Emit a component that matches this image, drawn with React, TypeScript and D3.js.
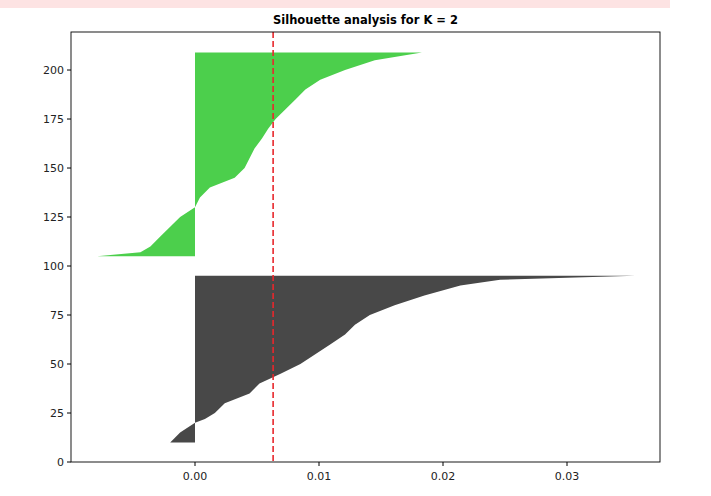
import * as d3 from "d3";

const yTicks = [0, 25, 50, 75, 100, 125, 150, 175, 200];
const xTicks = [0, 0.01, 0.02, 0.03];
const avgScore = 0.0063;

// cluster 0 (dark): [y, silhouette]
const cluster0: [number, number][] = [
  [10, -0.002], [15, -0.0012], [20, 0], [22, 0.0008], [25, 0.0016], [30, 0.0024],
  [35, 0.0044], [40, 0.0052], [45, 0.0069], [50, 0.0085], [55, 0.0097], [60, 0.0109],
  [65, 0.0121], [70, 0.0129], [75, 0.0141], [80, 0.0161], [85, 0.0185], [90, 0.0214],
  [93, 0.0246], [95, 0.0355],
];
// cluster 1 (green)
const cluster1: [number, number][] = [
  [105, -0.0079], [107, -0.0044], [110, -0.0036], [115, -0.0028], [120, -0.002],
  [125, -0.0012], [130, 0], [135, 0.0004], [140, 0.0012], [145, 0.0032], [150, 0.004],
  [155, 0.0044], [160, 0.0048], [165, 0.0054], [170, 0.0059], [175, 0.0065], [180, 0.0073],
  [185, 0.0081], [190, 0.0089], [195, 0.0101], [200, 0.0121], [205, 0.0145], [209, 0.0183],
];

const L = 71, R = 660, T = 32, B = 462;

export default function App() {
  const x = d3.scaleLinear().domain([-0.01, 0.0375]).range([L, R]);
  const y = d3.scaleLinear().domain([0, 219.4]).range([B, T]);
  const area = d3
    .area<[number, number]>()
    .y((d) => y(d[0]))
    .x0(x(0))
    .x1((d) => x(d[1]));
  const font = "DejaVu Sans, sans-serif";
  return (
    <svg width={703} height={488} style={{ display: "block", margin: 0, position: "absolute", left: 0, top: 0 }}>
      <rect x={0} y={0} width={670} height={8} fill="#fde3e3" />
      <rect x={0} y={8} width={711} height={488} fill="#fff" />
      <path d={area(cluster0) || ""} fill="#484848" />
      <path d={area(cluster1) || ""} fill="#4ccf4c" />
      <line x1={x(avgScore)} x2={x(avgScore)} y1={T} y2={B} stroke="#e8282d" strokeWidth={1.6} strokeDasharray="6,3" />
      <rect x={L} y={T} width={R - L} height={B - T} fill="none" stroke="#000" strokeWidth={0.9} />
      {yTicks.map((t) => (
        <g key={t}>
          <line x1={L - 4} x2={L} y1={y(t)} y2={y(t)} stroke="#000" />
          <text x={L - 7} y={y(t) + 4} textAnchor="end" fontSize={11} fontFamily={font} fill="#222">{t}</text>
        </g>
      ))}
      {xTicks.map((t) => (
        <g key={t}>
          <line x1={x(t)} x2={x(t)} y1={B} y2={B + 4} stroke="#000" />
          <text x={x(t)} y={B + 18} textAnchor="middle" fontSize={11} fontFamily={font} fill="#222">{t.toFixed(2)}</text>
        </g>
      ))}
      <text x={(L + R) / 2} y={T - 8} textAnchor="middle" fontSize={11.5} fontWeight="bold" fontFamily={font}>Silhouette analysis for K = 2</text>
    </svg>
  );
}
